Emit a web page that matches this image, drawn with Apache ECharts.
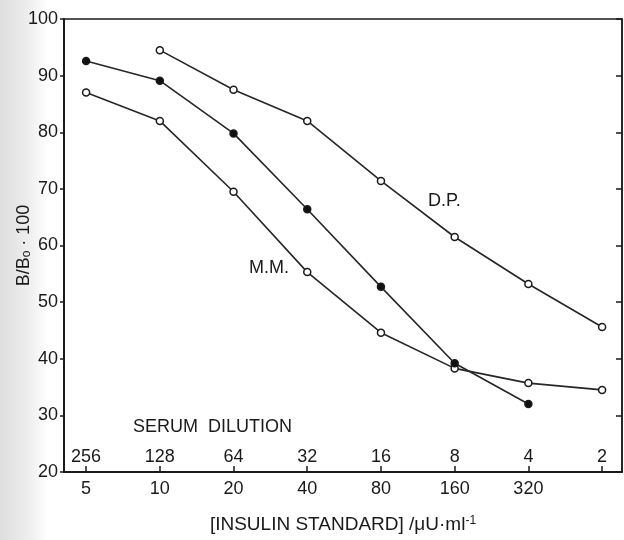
<!DOCTYPE html>
<html>
<head>
<meta charset="utf-8">
<script src="https://cdn.jsdelivr.net/npm/echarts@6/dist/echarts.min.js"></script>
<style>
  html, body { margin: 0; padding: 0; background: #fff; }
  #chart { width: 624px; height: 540px; }
</style>
</head>
<body>
<div id="chart"></div>
<script>
// x positions are category indices 0..7
var positions = [0, 1, 2, 3, 4, 5, 6, 7];
var insulinLabels = ['5', '10', '20', '40', '80', '160', '320', ''];
var dilutionLabels = ['256', '128', '64', '32', '16', '8', '4', '2'];

// B/Bo*100 (null = no point)
var dpValues = [null, 94.5, 87.5, 82.0, 71.4, 61.5, 53.2, 45.6];
var stdValues = [92.6, 89.1, 79.8, 66.4, 52.7, 39.2, 32.0, null];
var mmValues = [87.0, 82.0, 69.5, 55.3, 44.6, 38.3, 35.7, 34.5];

var ink = '#1a1a1a';
var font = 'Liberation Sans';

function pairs(vals) {
    var out = [];
    vals.forEach(function (v, i) {
        if (v != null) out.push([positions[i], v]);
    });
    return out;
}

function curve(name, vals, filled) {
    return {
        name: name,
        type: 'line',
        xAxisIndex: 0,
        yAxisIndex: 0,
        data: pairs(vals),
        symbol: 'circle',
        symbolSize: 7,
        showSymbol: true,
        lineStyle: { color: '#262626', width: 1.6 },
        itemStyle: {
            color: filled ? '#111' : '#fff',
            borderColor: '#1a1a1a',
            borderWidth: 1.5
        },
        z: filled ? 4 : 3,
        animation: false
    };
}

var chart = echarts.init(document.getElementById('chart'));
chart.setOption({
    backgroundColor: '#fff',
    animation: false,
    grid: {
        left: 64, top: 19, width: 558, height: 453,
        outerBoundsMode: 'none', containLabel: false,
        show: true, borderColor: ink, borderWidth: 1.5, backgroundColor: 'transparent'
    },
    xAxis: [{
        type: 'value', position: 'bottom', min: -0.3, max: 7.27,
        axisLine: { show: true, onZero: false, lineStyle: { color: ink, width: 2 } },
        axisTick: { show: true, inside: true, length: 6, customValues: positions, lineStyle: { color: ink, width: 1.5 } },
        axisLabel: {
            customValues: positions.slice(0, 7), margin: 8,
            color: ink, fontFamily: font, fontSize: 18,
            formatter: function (v) { return insulinLabels[Math.round(v)]; }
        },
        splitLine: { show: false },
        name: '[INSULIN STANDARD] /\u03bcU\u00b7ml{sup|-1}',
        nameLocation: 'middle', nameGap: 43,
        nameTextStyle: {
            color: ink, fontFamily: font, fontSize: 19,
            rich: { sup: { fontSize: 12, verticalAlign: 'top', color: ink, fontFamily: font, padding: [0, 0, 8, 0] } }
        }
    }, {
        type: 'value', position: 'bottom', min: -0.3, max: 7.27,
        axisLine: { show: false },
        axisTick: { show: false },
        axisLabel: {
            inside: true, customValues: positions, margin: 6,
            color: ink, fontFamily: font, fontSize: 18,
            formatter: function (v) { return dilutionLabels[Math.round(v)]; }
        },
        splitLine: { show: false }
    }],
    yAxis: [{
        type: 'value', position: 'left', min: 20, max: 100, interval: 10,
        axisLine: { show: true, onZero: false, lineStyle: { color: ink, width: 2 } },
        axisTick: { show: true, length: 4, lineStyle: { color: ink, width: 1.5 } },
        axisLabel: { color: ink, fontFamily: font, fontSize: 18, margin: 6 },
        splitLine: { show: false },
        name: '{n|B/B}{s|o}{n| \u00b7 100}',
        nameLocation: 'middle', nameRotate: 90, nameGap: 31, nameMoveOverlap: false,
        nameTextStyle: {
            rich: {
                n: { color: ink, fontFamily: font, fontSize: 18 },
                s: { color: ink, fontFamily: font, fontSize: 12, verticalAlign: 'bottom' }
            }
        }
    }, {
        type: 'value', position: 'right', min: 20, max: 100, interval: 10,
        axisLine: { show: true, onZero: false, lineStyle: { color: ink, width: 1.5 } },
        axisTick: { show: true, inside: true, length: 6, lineStyle: { color: ink, width: 1.5 } },
        axisLabel: { show: false },
        splitLine: { show: false }
    }],
    graphic: [{
        type: 'rect', left: 0, top: 0, z: -10, silent: true,
        shape: { width: 48, height: 540 },
        style: {
            fill: new echarts.graphic.LinearGradient(0, 0, 1, 0, [
                { offset: 0, color: '#dedede' },
                { offset: 0.6, color: '#eeeeee' },
                { offset: 1, color: '#ffffff' }
            ])
        }
    }, {
        type: 'text', left: 133, top: 418, silent: true,
        style: { text: 'SERUM  DILUTION', fill: ink, font: '18px "Liberation Sans"' }
    }, {
        type: 'text', left: 428, top: 192, silent: true,
        style: { text: 'D.P.', fill: ink, font: '18px "Liberation Sans"' }
    }, {
        type: 'text', left: 249, top: 259, silent: true,
        style: { text: 'M.M.', fill: ink, font: '18px "Liberation Sans"' }
    }],
    series: [
        curve('D.P.', dpValues, false),
        curve('Standard', stdValues, true),
        curve('M.M.', mmValues, false)
    ]
});
</script>
</body>
</html>
